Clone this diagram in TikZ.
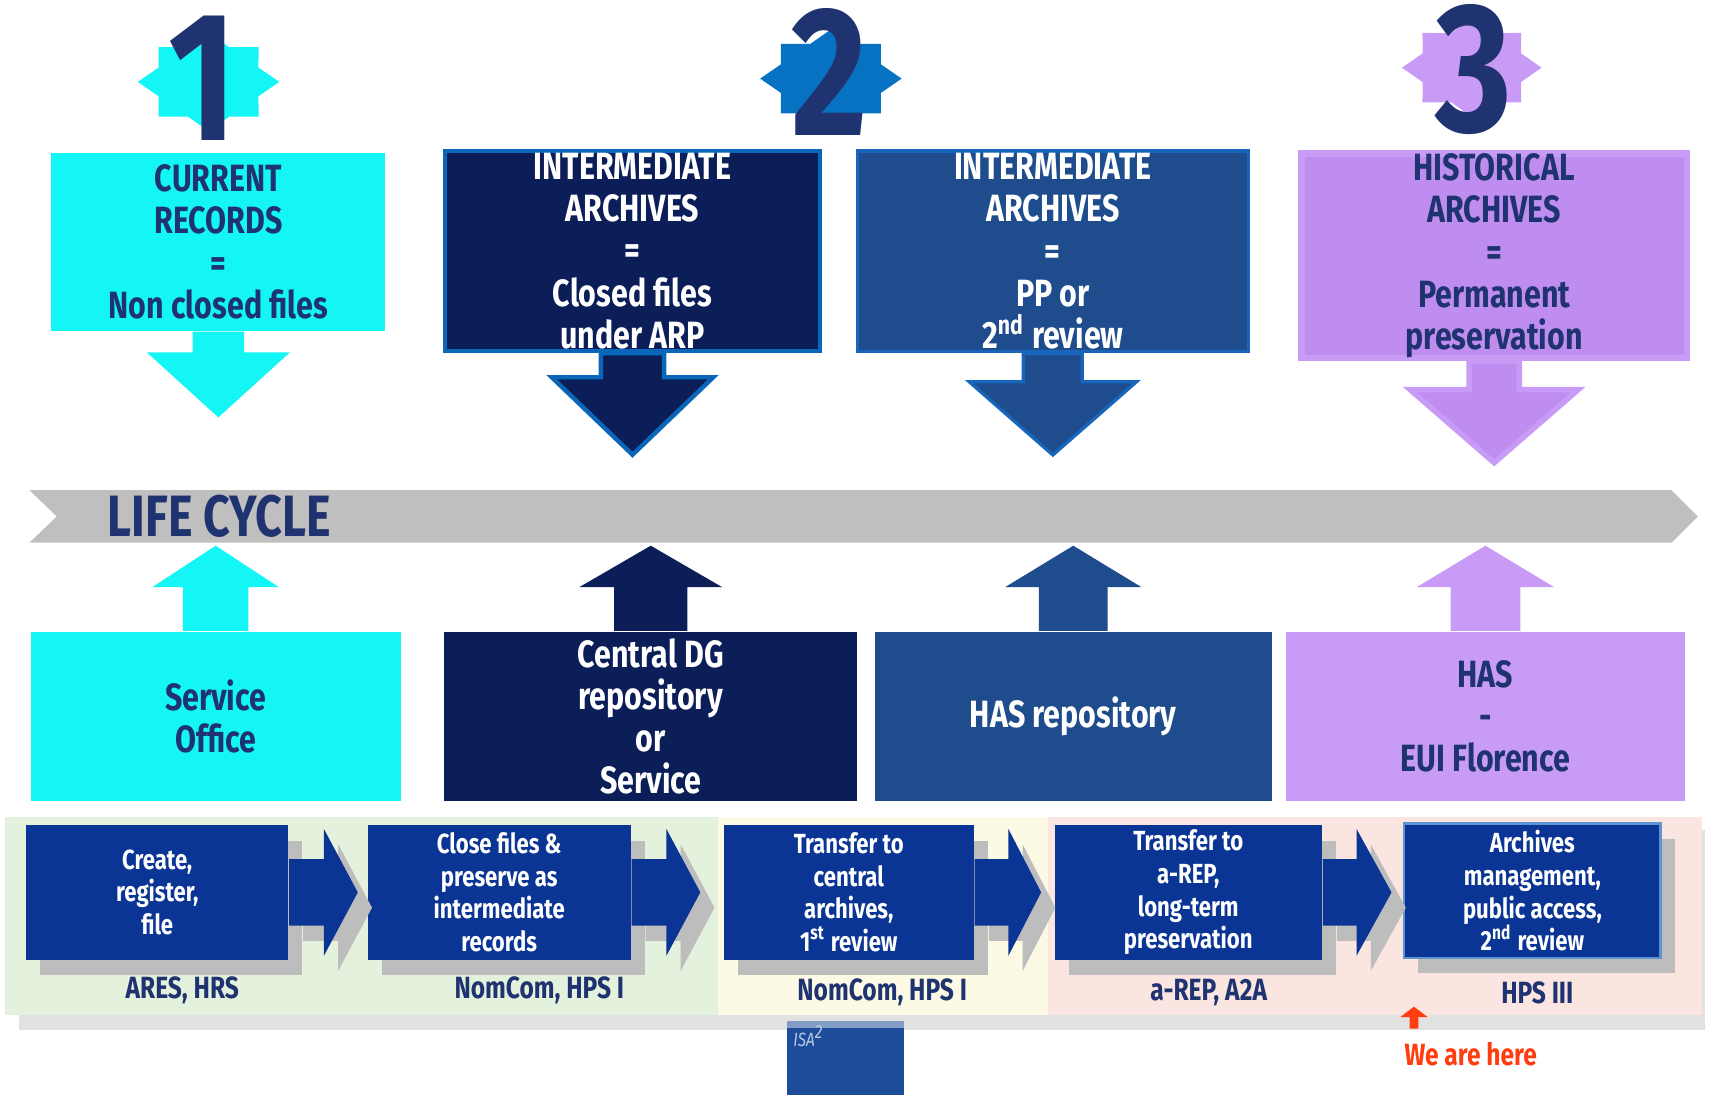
\documentclass[tikz,border=0pt]{standalone}
\usepackage{fontspec}
\setmainfont{Fira Sans}[FakeStretch=0.8]
\usepackage{tikz}
\usetikzlibrary{calc,shapes.geometric,shadows}
\definecolor{camgobegi}{HTML}{14F5F5}
\definecolor{lacivert}{HTML}{0B1E58}
\definecolor{cerceveMavi}{HTML}{0A66B8}
\definecolor{koyuMavi}{HTML}{1F4C8C}
\definecolor{koyuMaviKenar}{HTML}{1766BC}
\definecolor{lila}{HTML}{C89BF7}
\definecolor{koyuLila}{HTML}{BF8CEF}
\definecolor{yildizMavi}{HTML}{0872C2}
\definecolor{surecMavi}{HTML}{0A3594}
\definecolor{yaziLacivert}{HTML}{1E3370}
\definecolor{bantGri}{HTML}{BFBFBF}
\definecolor{golgeGri}{HTML}{BDBDBD}
\definecolor{zeminGri}{HTML}{E2E2E2}
\definecolor{acikYesil}{HTML}{E4F1DD}
\definecolor{acikSari}{HTML}{FCFAE4}
\definecolor{acikPembe}{HTML}{FBE5E1}
\definecolor{isaMavi}{HTML}{1D4C9A}
\definecolor{uyariTuruncu}{HTML}{FF3D0F}

\newcommand{\dikOk}[6]{\path[#1] ($(#2)+(-#3,0)$) -- ($(#2)+(-#3,#4)$) -- ($(#2)+(-#5,#4)$) -- ($(#2)+(0,{#4+(#6)})$) -- ($(#2)+(#5,#4)$) -- ($(#2)+(#3,#4)$) -- ($(#2)+(#3,0)$) -- cycle;}
\newcommand{\yatayOk}[6]{\path[#1] ($(#2)+(0,-#3)$) -- ($(#2)+(#4,-#3)$) -- ($(#2)+(#4,-#5)$) -- ($(#2)+({#4+(#6)},0)$) -- ($(#2)+(#4,#5)$) -- ($(#2)+(#4,#3)$) -- ($(#2)+(0,#3)$) -- cycle;}

\begin{document}
\begin{tikzpicture}[x=0.1mm,y=-0.1mm,
  kutuYazi/.style={align=center,inner sep=0pt,font=\bfseries\fontsize{9.9}{11}\selectfont},
  altKutu/.style={kutuYazi,minimum height=15.5mm},
  golge/.style={drop shadow={shadow xshift=1.3mm,shadow yshift=-1.4mm,fill=golgeGri,opacity=1}},
  surecKutu/.style={fill=surecMavi,text=white,align=center,inner sep=0pt,minimum height=12.3mm,font=\bfseries\fontsize{7.2}{8.5}\selectfont,golge},
  surecOk/.style={fill=surecMavi,golge},
  etiket/.style={text=yaziLacivert,inner sep=0pt,font=\bfseries\fontsize{8}{9.6}\selectfont},
  rakam/.style={text=yaziLacivert,inner sep=0pt,font=\bfseries\fontsize{48}{48}\selectfont},
  yildiz/.style={star,star points=8,star point ratio=1.31,minimum size=9mm,inner sep=0pt,transform shape}]
\useasboundingbox (0,0) rectangle (1568,1003);

\begin{scope}[shift={(191,75)},xscale=1.44]
  \node[yildiz,fill=camgobegi] (yildizBir) at (0,0) {};
\end{scope}
\begin{scope}[shift={(761,72)},xscale=1.44]
  \node[yildiz,fill=yildizMavi] (yildizIki) at (0,0) {};
\end{scope}
\begin{scope}[shift={(1348,62)},xscale=1.42]
  \node[yildiz,fill=lila] (yildizUc) at (0,0) {};
\end{scope}
\node[rakam] (rakamBir) at (186,72) {1};
\node[rakam] (rakamIki) at (760,66) {2};
\node[rakam] (rakamUc) at (1350,64) {3};

\node[kutuYazi,fill=camgobegi,text=yaziLacivert,minimum width=30.6mm,minimum height=16.3mm] (guncel) at (200,221.5) {CURRENT\\RECORDS\\=\\Non closed files};
\node[kutuYazi,fill=lacivert,draw=cerceveMavi,line width=0.4mm,text=white,minimum width=34.3mm,minimum height=18.3mm] (araBir) at (579.3,230) {INTERMEDIATE\\ARCHIVES\\=\\Closed files\\under ARP};
\node[kutuYazi,fill=koyuMavi,draw=koyuMaviKenar,line width=0.3mm,text=white,minimum width=35.8mm,minimum height=18.4mm] (araIki) at (964.3,230.2) {INTERMEDIATE\\ARCHIVES\\=\\PP or\\2\textsuperscript{nd} review};
\node[kutuYazi,fill=koyuLila,draw=lila,line width=0.6mm,text=yaziLacivert,minimum width=35.3mm,minimum height=18.3mm] (tarihi) at (1368.5,234.3) {HISTORICAL\\ARCHIVES\\=\\Permanent\\preservation};

\dikOk{fill=camgobegi}{guncel.south}{23.5}{19}{65.5}{59.6}
\dikOk{fill=lacivert,draw=cerceveMavi,line width=0.4mm}{araBir.south}{29}{22}{74}{71}
\dikOk{fill=koyuMavi,draw=koyuMaviKenar,line width=0.3mm}{araIki.south}{27}{26}{76.5}{67}
\dikOk{fill=koyuLila,draw=lila,line width=0.5mm}{tarihi.south}{23}{26}{77}{67}

\fill[bantGri] (27,449) -- (1531,449) -- (1555,473) -- (1531,497) -- (27,497) -- (52,473) -- cycle;
\node[anchor=west,text=yaziLacivert,inner sep=0pt,font=\bfseries\fontsize{15.2}{17}\selectfont] (yasam) at (98,473) {LIFE CYCLE};

\node[altKutu,fill=camgobegi,text=yaziLacivert,minimum width=33.9mm] (servis) at (197.5,656) {Service\\Office};
\node[altKutu,fill=lacivert,text=white,minimum width=37.8mm] (merkez) at (596,656) {Central DG\\repository\\or\\Service};
\node[altKutu,fill=koyuMavi,text=white,minimum width=36.4mm] (hasDepo) at (983,656) {HAS repository};
\node[altKutu,fill=lila,text=yaziLacivert,minimum width=36.5mm] (hasEui) at (1360.5,656) {HAS\\-\\EUI Florence};

\dikOk{fill=camgobegi}{servis.north}{30}{-40}{58}{-38}
\dikOk{fill=lacivert}{merkez.north}{33.5}{-40}{65.5}{-38}
\dikOk{fill=koyuMavi}{hasDepo.north}{31.5}{-40}{62.5}{-38}
\dikOk{fill=lila}{hasEui.north}{32}{-40}{63}{-38}

\fill[zeminGri] (17,760) rectangle (1562,943);
\fill[acikYesil] (5,748) rectangle (658,930);
\fill[acikSari] (658,748) rectangle (960,930);
\fill[acikPembe] (960,748) rectangle (1559,930);

\node[surecKutu,minimum width=24mm] (surecBir) at (144,817.3) {Create,\\register,\\file};
\node[surecKutu,minimum width=24.1mm] (surecIki) at (457.2,817.3) {Close files \&\\preserve as\\intermediate\\records};
\node[surecKutu,minimum width=22.9mm] (surecUc) at (777.4,817.3) {Transfer to\\central\\archives,\\1\textsuperscript{st} review};
\node[surecKutu,minimum width=24.5mm] (surecDort) at (1088.3,817.3) {Transfer to\\a-REP,\\long-term\\preservation};
\node[surecKutu,draw=koyuMaviKenar!70!white,line width=0.25mm,minimum width=23.5mm] (surecBes) at (1403.5,816) {Archives\\management,\\public access,\\2\textsuperscript{nd} review};

\yatayOk{surecOk}{surecBir.east}{30.5}{32}{58}{31}
\yatayOk{surecOk}{surecIki.east}{30.5}{32}{58}{31}
\yatayOk{surecOk}{surecUc.east}{30.5}{31}{58}{30}
\yatayOk{surecOk}{surecDort.east}{30.5}{31}{58}{32}

\node[etiket] (etiketBir) at (167,907) {ARES, HRS};
\node[etiket] (etiketIki) at (494,907) {NomCom, HPS I};
\node[etiket] (etiketUc) at (808,909) {NomCom, HPS I};
\node[etiket] (etiketDort) at (1107,909) {a-REP, A2A};
\node[etiket] (etiketBes) at (1408,909) {HPS III};

\fill[isaMavi] (720.5,935) rectangle (828,1003);
\fill[isaMavi!55!white] (720.5,935) rectangle (828,941.6);
\node[anchor=west,inner sep=0pt,text=white!70!isaMavi,font=\itshape\fontsize{5}{6}\selectfont] (isa) at (726,949) {ISA\textsuperscript{2}};

\node[text=uyariTuruncu,inner sep=0pt,font=\bfseries\fontsize{8}{9.6}\selectfont] (burada) at (1347,965) {We are here};
\coordinate (buradaOk) at (1295,942);
\dikOk{fill=uyariTuruncu}{buradaOk}{4}{-10.5}{12.5}{-9.5}
\end{tikzpicture}
\end{document}
